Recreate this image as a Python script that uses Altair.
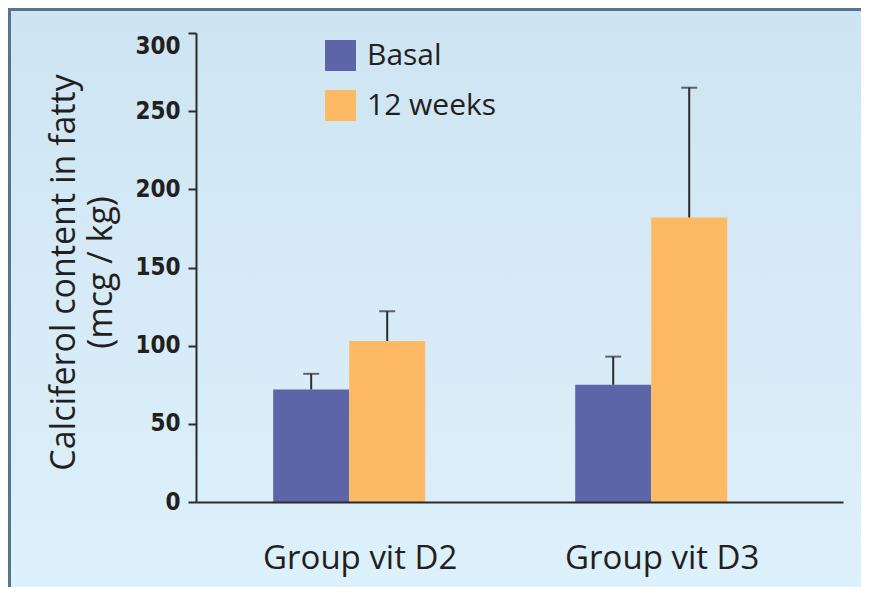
import altair as alt
import pandas as pd

groups = ["Group vit D2", "Group vit D3"]
series = ["Basal", "12 weeks"]
basal_vals = [72, 75]
week12_vals = [103, 182]
basal_err_top = [82, 93]
week12_err_top = [122, 265]
colors = ["#5b65a8", "#fdb964"]
y_ticks = [0, 50, 100, 150, 200, 250, 300]

rows = []
for i, g in enumerate(groups):
    rows.append({"group": g, "series": "Basal", "value": basal_vals[i], "err": basal_err_top[i]})
    rows.append({"group": g, "series": "12 weeks", "value": week12_vals[i], "err": week12_err_top[i]})
df = pd.DataFrame(rows)

PL, PT, PR, PB = 188, 25, 18, 85
W, H = 647, 469
TXT = "#231f20"
BORDER = "#56758a"

x_enc = alt.X("group:N", sort=groups,
              scale=alt.Scale(domain=groups, paddingInner=0.4967, paddingOuter=0.3195, align=0.4),
              axis=alt.Axis(title=None, labelAngle=0, ticks=False, labelPadding=40, labelLimit=0,
                            labelOffset=11,
                            labelFont="Open Sans", labelFontSize=33, labelColor=TXT,
                            domainColor="#2b2b2b", domainWidth=2, zindex=1))
xoff = alt.XOffset("series:N", sort=series, scale=alt.Scale(domain=series, paddingInner=0, paddingOuter=0))
y_scale = alt.Scale(domain=[0, 300], nice=False, zero=True)

one = pd.DataFrame({"a": [0]})
bg = alt.Chart(one).mark_rect(
    fill=alt.LinearGradient(gradient="linear",
                            stops=[alt.GradientStop(color="#cfe4f2", offset=0),
                                   alt.GradientStop(color="#ddf1fc", offset=1)],
                            x1=0, x2=0, y1=0, y2=1)
).encode(x=alt.value(-PL), x2=alt.value(W + PR), y=alt.value(-PT), y2=alt.value(H + PB))

border_left = alt.Chart(one).mark_rect(color=BORDER).encode(
    x=alt.value(-PL), x2=alt.value(-PL + 3), y=alt.value(-PT), y2=alt.value(H + PB))
border_top = alt.Chart(one).mark_rect(color=BORDER).encode(
    x=alt.value(-PL), x2=alt.value(W + PR), y=alt.value(-PT), y2=alt.value(-PT + 3))

bars = alt.Chart(df).mark_bar().encode(
    x=x_enc,
    xOffset=xoff,
    y=alt.Y("value:Q", scale=y_scale,
            axis=alt.Axis(values=y_ticks, title=["Calciferol content in fatty", "(mcg / kg)"],
                          grid=False, tickSize=8, tickWidth=2, tickColor="#2b2b2b",
                          domainColor="#2b2b2b", domainWidth=2, labelPadding=8, zindex=1,
                          labelFont="DejaVu Sans Condensed, Roboto, sans-serif", labelFontWeight="bold",
                          labelFontSize=24, labelColor=TXT,
                          labelOffset={"condition": {"test": "datum.value == 300", "value": 13}, "value": 0},
                          titleFont="Open Sans", titleFontSize=34, titleFontWeight="normal",
                          titleColor=TXT, titleAngle=-90, titleAlign="center",
                          titleBaseline="alphabetic", titleLineHeight=37,
                          titleX=-122, titleY=239)),
    color=alt.Color("series:N", sort=series,
                    scale=alt.Scale(domain=series, range=colors),
                    legend=alt.Legend(title=None, orient="none", legendX=129, legendY=7,
                                      symbolType="square", symbolSize=961, symbolStrokeWidth=0,
                                      symbolOpacity=1, padding=0, rowPadding=19, labelOffset=11,
                                      labelFont="Open Sans", labelFontSize=30, labelColor=TXT))
)

rules = alt.Chart(df).mark_rule(color="#2b2b2b", strokeWidth=2).encode(
    x=alt.X("group:N", sort=groups), xOffset=xoff,
    y=alt.Y("value:Q", scale=y_scale), y2="err:Q")

caps = alt.Chart(df).mark_tick(color="#2b2b2b", size=16, thickness=2).encode(
    x=alt.X("group:N", sort=groups), xOffset=xoff,
    y=alt.Y("err:Q", scale=y_scale))

chart = alt.layer(bg, border_left, border_top, bars, rules, caps).properties(
    width=W, height=H,
    autosize=alt.AutoSizeParams(type="none"),
    padding={"left": PL, "top": PT, "right": PR, "bottom": PB},
    background="#d6eaf7"
).configure_view(stroke=None)

chart.save("out.html", embed_options={"renderer": "svg", "actions": False})
